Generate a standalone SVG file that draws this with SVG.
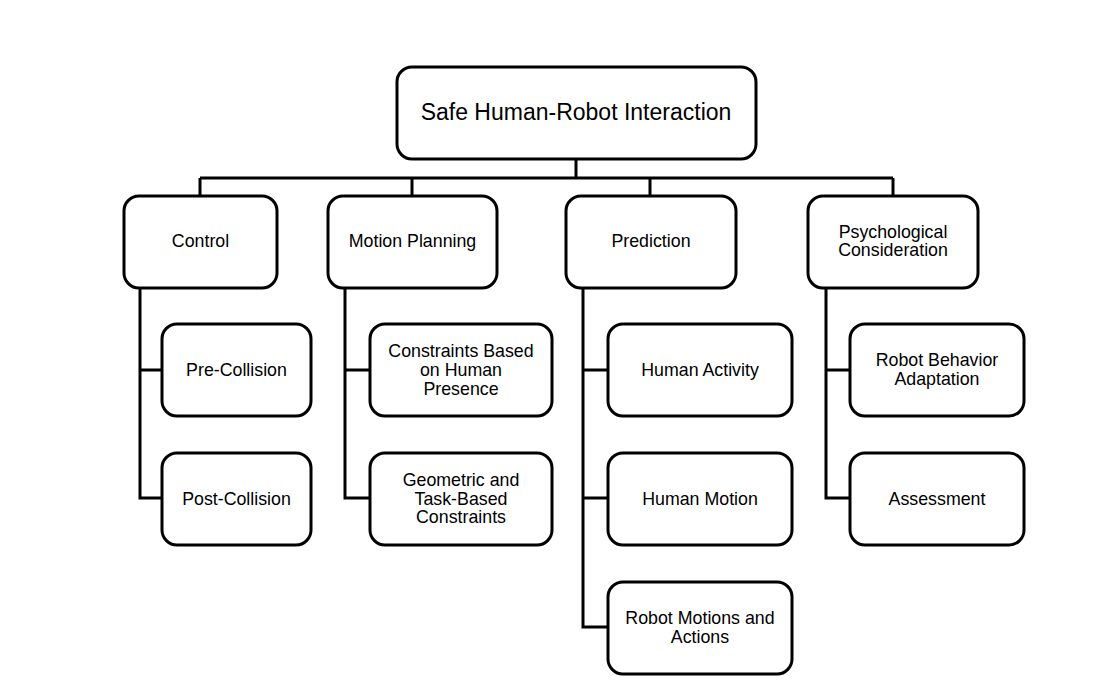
<svg xmlns="http://www.w3.org/2000/svg" width="1120" height="700" viewBox="0 0 1120 700">
<style>
.box{fill:#fff;stroke:#000;stroke-width:3}
.t{font-family:"Liberation Sans",Arial,sans-serif;font-size:17.8px;fill:#000;text-anchor:middle}
.tt{font-family:"Liberation Sans",Arial,sans-serif;font-size:23px;fill:#000;text-anchor:middle}
.c{fill:none;stroke:#000;stroke-width:3}
</style>
<rect width="1120" height="700" fill="#fff"/>
<g id="connectors">
<path class="c" d="M576,159V178M200,178H893M200,178V196M412,178V196M650,178V196M893,178V196"/>
<path class="c" d="M140,288V498H162M140,370H162"/>
<path class="c" d="M345,288V498H370M345,370H370"/>
<path class="c" d="M583,288V627H608M583,370H608M583,498H608"/>
<path class="c" d="M826,288V498H850M826,370H850"/>
</g>
<g id="root"><rect class="box" x="397" y="67" width="359" height="92" rx="15"/><text class="tt" x="576" y="120">Safe Human-Robot Interaction</text></g>
<g id="control"><rect class="box" x="124" y="196" width="153" height="92" rx="15"/><text class="t" x="200.5" y="247">Control</text></g>
<g id="motion-planning"><rect class="box" x="328" y="196" width="169" height="92" rx="15"/><text class="t" x="412.5" y="247">Motion Planning</text></g>
<g id="prediction"><rect class="box" x="566" y="196" width="170" height="92" rx="15"/><text class="t" x="651" y="247">Prediction</text></g>
<g id="psychological"><rect class="box" x="808" y="196" width="170" height="92" rx="15"/><text class="t" x="893" y="238">Psychological</text><text class="t" x="893" y="256">Consideration</text></g>
<g id="pre-collision"><rect class="box" x="162" y="324" width="149" height="92" rx="15"/><text class="t" x="236.5" y="376">Pre-Collision</text></g>
<g id="post-collision"><rect class="box" x="162" y="453" width="149" height="92" rx="15"/><text class="t" x="236.5" y="505">Post-Collision</text></g>
<g id="constraints-human"><rect class="box" x="370" y="324" width="182" height="92" rx="15"/><text class="t" x="461" y="357">Constraints Based</text><text class="t" x="461" y="376">on Human</text><text class="t" x="461" y="395">Presence</text></g>
<g id="geometric"><rect class="box" x="370" y="453" width="182" height="92" rx="15"/><text class="t" x="461" y="486">Geometric and</text><text class="t" x="461" y="505">Task-Based</text><text class="t" x="461" y="523">Constraints</text></g>
<g id="human-activity"><rect class="box" x="608" y="324" width="184" height="92" rx="15"/><text class="t" x="700" y="376">Human Activity</text></g>
<g id="human-motion"><rect class="box" x="608" y="453" width="184" height="92" rx="15"/><text class="t" x="700" y="505">Human Motion</text></g>
<g id="robot-motions"><rect class="box" x="608" y="582" width="184" height="92" rx="15"/><text class="t" x="700" y="624">Robot Motions and</text><text class="t" x="700" y="643">Actions</text></g>
<g id="robot-behavior"><rect class="box" x="850" y="324" width="174" height="92" rx="15"/><text class="t" x="937" y="366">Robot Behavior</text><text class="t" x="937" y="385">Adaptation</text></g>
<g id="assessment"><rect class="box" x="850" y="453" width="174" height="92" rx="15"/><text class="t" x="937" y="505">Assessment</text></g>
</svg>
